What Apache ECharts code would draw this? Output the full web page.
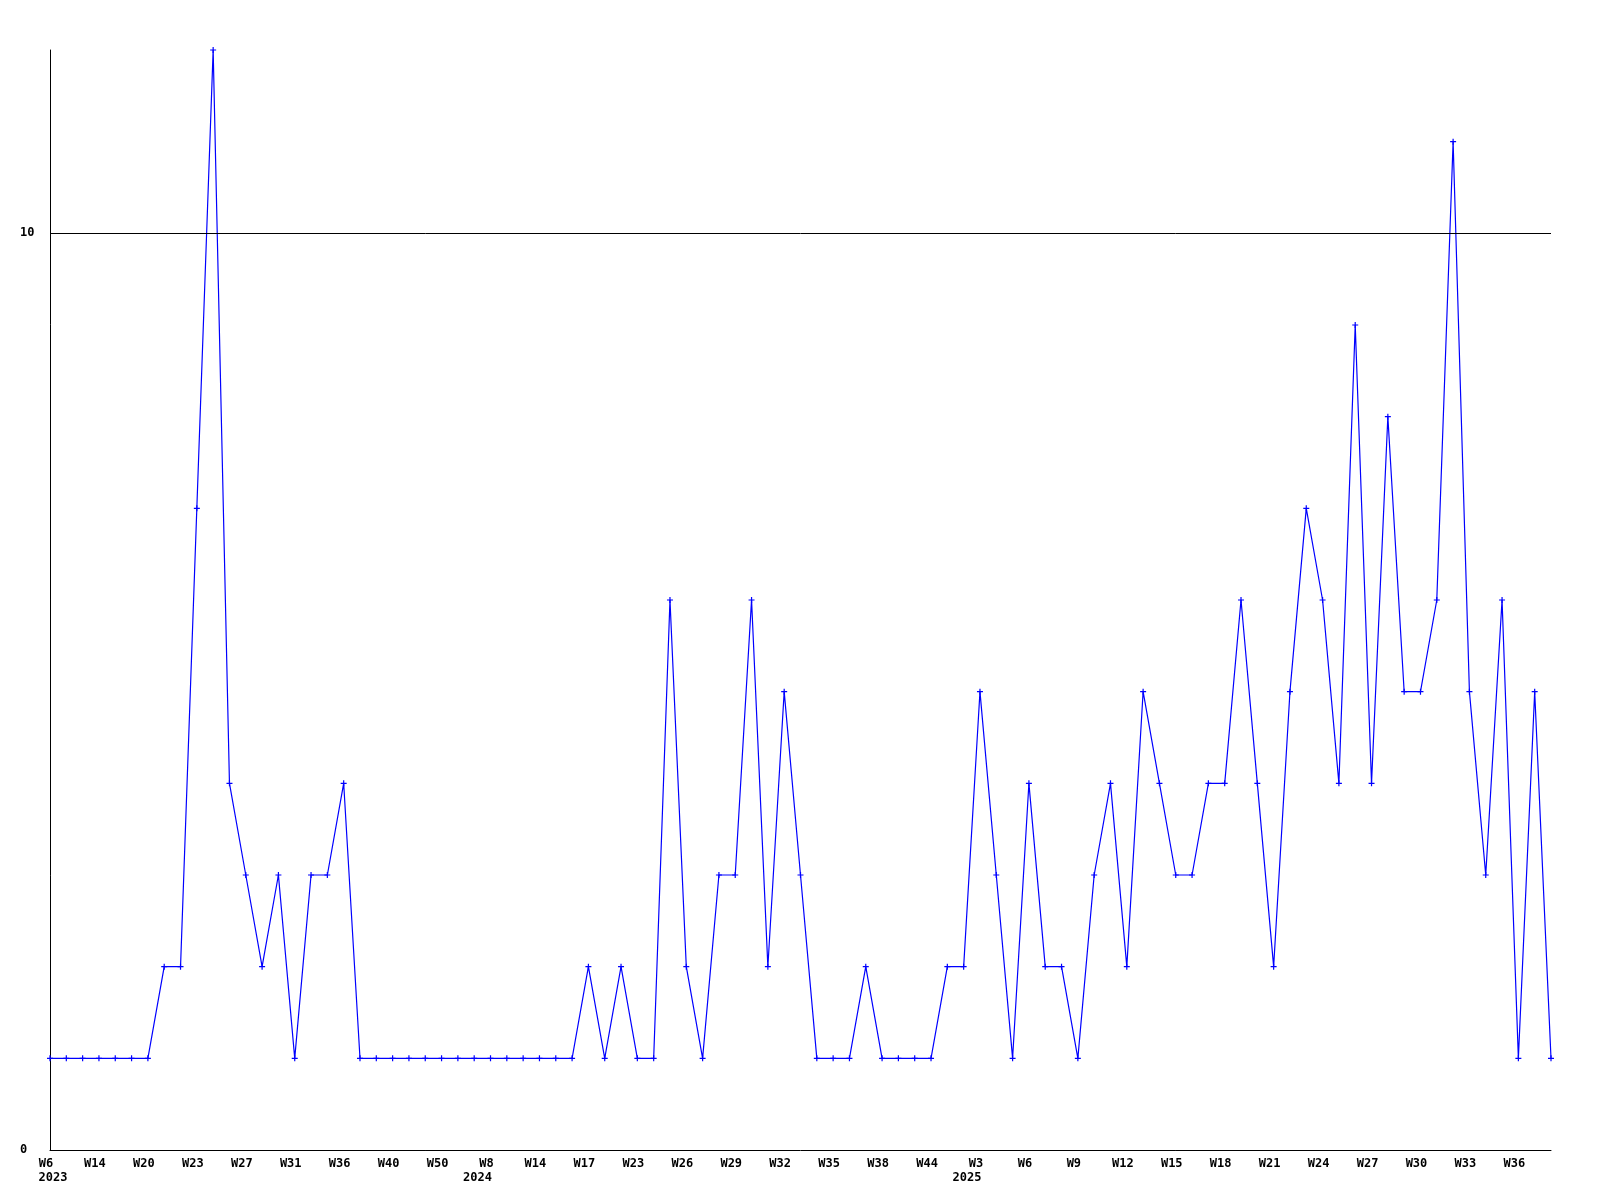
<!DOCTYPE html>
<html>
<head>
<meta charset="utf-8">
<script src="https://cdn.jsdelivr.net/npm/echarts@6/dist/echarts.min.js"></script>
<style>
html,body{margin:0;padding:0;background:#fff;}
#chart{width:1600px;height:1200px;}
</style>
</head>
<body>
<div id="chart"></div>
<script>
// Values per data point (93 points)
const values = [
  1, 1, 1, 1, 1, 1, 1, 2, 2, 7,
  12, 4, 3, 2, 3, 1, 3, 3, 4, 1,
  1, 1, 1, 1, 1, 1, 1, 1, 1, 1,
  1, 1, 1, 2, 1, 2, 1, 1, 6, 2,
  1, 3, 3, 6, 2, 5, 3, 1, 1, 1,
  2, 1, 1, 1, 1, 2, 2, 5, 3, 1,
  4, 2, 2, 1, 3, 4, 2, 5, 4, 3,
  3, 4, 4, 6, 4, 2, 5, 7, 6, 4,
  9, 4, 8, 5, 5, 6, 11, 5, 3, 6,
  1, 5, 1
];
// Tick labels, one every third point
const tickLabels = ['W6','W14','W20','W23','W27','W31','W36','W40','W50','W8',
  'W14','W17','W23','W26','W29','W32','W35','W38','W44','W3',
  'W6','W9','W12','W15','W18','W21','W24','W27','W30','W33','W36'];
const tickYears = ['2023','','','','','','','','','2024',
  '','','','','','','','','','2025',
  '','','','','','','','','','',''];
const yTickLabels = [0, 10];
const refLineValue = 10;

const categories = values.map((_, i) => (i % 3 === 0 ? (tickLabels[i / 3] || '') : ''));

const chart = echarts.init(document.getElementById('chart'), null, {renderer: 'canvas'});
const font = '"DejaVu Sans Mono", monospace';
const txt = {fontFamily: font, fontWeight: 'bold', fontSize: 12, color: '#000', lineHeight: 14};
chart.setOption({
  animation: false,
  backgroundColor: '#ffffff',
  grid: {left: 50, right: 49, top: 50, bottom: 50, containLabel: false, outerBoundsMode: 'none'},
  xAxis: {
    type: 'category',
    data: categories,
    boundaryGap: false,
    axisLine: {show: true, lineStyle: {color: '#000', width: 1}},
    axisTick: {show: false},
    splitLine: {show: false},
    axisLabel: {
      interval: 2,
      margin: 7,
      hideOverlap: false,
      formatter: function (val, idx) {
        const k = idx / 3;
        if (idx % 3 !== 0) return '';
        let s = '{w|' + tickLabels[k] + '}';
        if (tickYears[k]) s += '\n{' + (k === 0 ? 'y0' : 'y') + '|' + tickYears[k] + '}';
        return s;
      },
      rich: {
        w: Object.assign({padding: [0, 8, 0, 0]}, txt),
        y: Object.assign({padding: [0, 26, 0, 0]}, txt),
        y0: Object.assign({padding: [0, 0, 0, 6]}, txt)
      }
    }
  },
  yAxis: {
    type: 'value',
    min: 0,
    max: 12,
    interval: 2,
    axisLine: {show: true, lineStyle: {color: '#000', width: 1}},
    axisTick: {show: false},
    splitLine: {show: false},
    axisLabel: {
      margin: 30,
      align: 'left',
      fontFamily: font,
      fontWeight: 'bold',
      fontSize: 12,
      color: '#000',
      formatter: function (v) { return yTickLabels.indexOf(v) >= 0 ? String(v) : ''; }
    }
  },
  series: [{
    type: 'line',
    data: values,
    symbol: 'path://M2,0H3V2H5V3H3V5H2V3H0V2H2Z',
    symbolSize: 6,
    showSymbol: true,
    lineStyle: {color: '#0000ff', width: 1.2},
    itemStyle: {color: '#0000ff'},
    markLine: {
      silent: true,
      symbol: 'none',
      label: {show: false},
      lineStyle: {color: '#000', width: 1, type: 'solid'},
      data: [{yAxis: refLineValue}]
    },
    z: 3
  }]
});
</script>
</body>
</html>
